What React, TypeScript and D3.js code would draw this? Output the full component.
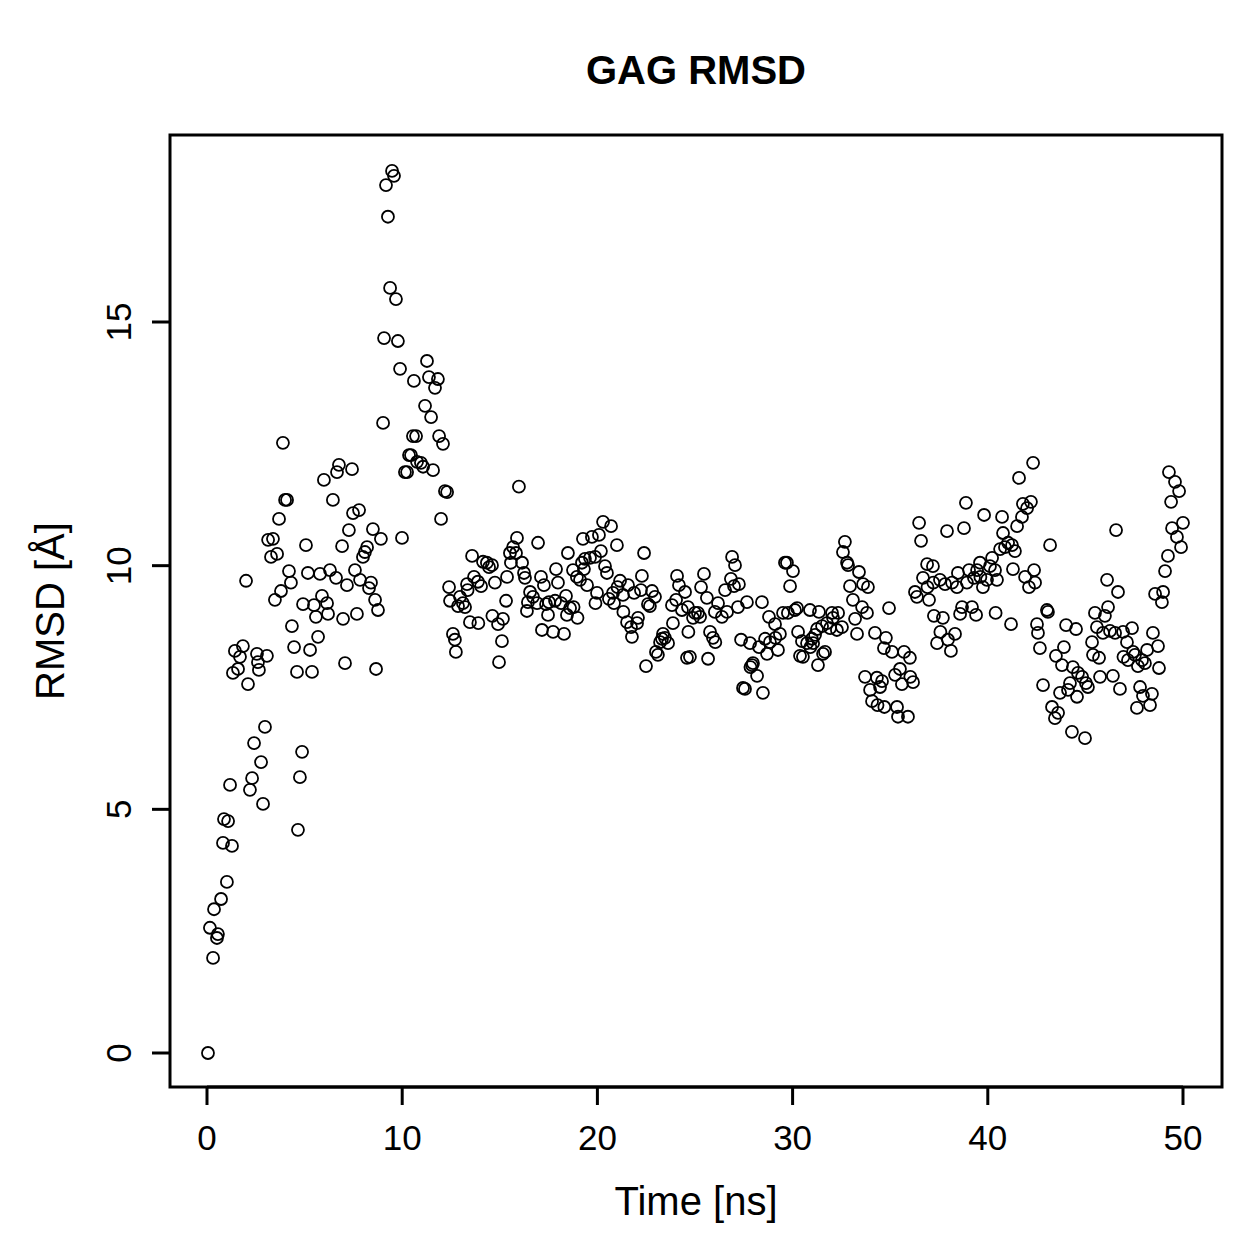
import React, { useEffect, useRef } from 'react';
import * as d3 from 'd3';

// values, paired by index
const timeNs = [
  0.05, 0.15, 0.31, 0.36, 0.51, 0.56, 0.72, 0.82, 0.87, 1.02, 1.08, 1.18, 1.28, 1.33, 1.43, 1.59, 1.69, 1.84, 2.00, 2.10,
  2.20, 2.31, 2.41, 2.56, 2.61, 2.66, 2.77, 2.87, 2.97, 3.07, 3.13, 3.28, 3.38, 3.48, 3.59, 3.69, 3.79, 3.89, 4.00, 4.10,
  4.20, 4.30, 4.35, 4.46, 4.61, 4.66, 4.76, 4.87, 4.92, 5.07, 5.17, 5.28, 5.38, 5.48, 5.58, 5.69, 5.79, 5.89, 5.99, 6.15,
  6.20, 6.30, 6.45, 6.61, 6.66, 6.76, 6.92, 6.97, 7.07, 7.17, 7.27, 7.43, 7.48, 7.58, 7.68, 7.79, 7.84, 7.99, 8.09, 8.20,
  8.30, 8.40, 8.50, 8.61, 8.66, 8.76, 8.91, 9.02, 9.07, 9.17, 9.27, 9.38, 9.48, 9.58, 9.68, 9.78, 9.89, 9.99, 10.14, 10.25,
  10.35, 10.45, 10.55, 10.60, 10.71, 10.76, 10.96, 11.07, 11.17, 11.27, 11.37, 11.48, 11.58, 11.68, 11.83, 11.89, 11.99, 12.09, 12.19, 12.30,
  12.40, 12.45, 12.60, 12.70, 12.75, 12.86, 12.96, 13.11, 13.22, 13.32, 13.35, 13.47, 13.58, 13.68, 13.88, 13.90, 14.04, 14.14, 14.34, 14.45,
  14.60, 14.62, 14.75, 14.91, 14.96, 15.11, 15.16, 15.32, 15.37, 15.52, 15.57, 15.68, 15.83, 15.88, 15.98, 16.14, 16.24, 16.29, 16.39, 16.44,
  16.55, 16.70, 16.91, 16.96, 17.11, 17.16, 17.26, 17.37, 17.47, 17.52, 17.73, 17.83, 17.88, 17.98, 18.14, 18.29, 18.39, 18.44, 18.49, 18.60,
  18.75, 18.78, 18.95, 18.98, 19.11, 19.21, 19.26, 19.31, 19.36, 19.47, 19.62, 19.72, 19.88, 19.90, 19.98, 20.08, 20.18, 20.29, 20.39, 20.49,
  20.59, 20.70, 20.80, 20.85, 21.00, 21.03, 21.16, 21.31, 21.33, 21.52, 21.57, 21.72, 21.77, 21.88, 22.03, 22.08, 22.23, 22.28, 22.39, 22.49,
  22.59, 22.69, 22.80, 22.95, 23.00, 23.10, 23.21, 23.31, 23.36, 23.46, 23.62, 23.82, 23.87, 24.03, 24.08, 24.18, 24.33, 24.49, 24.59, 24.64,
  24.66, 24.74, 24.90, 25.00, 25.15, 25.26, 25.31, 25.46, 25.61, 25.67, 25.77, 25.92, 26.02, 26.04, 26.18, 26.38, 26.54, 26.64, 26.84, 26.90,
  27.00, 27.05, 27.20, 27.25, 27.36, 27.46, 27.56, 27.66, 27.82, 27.84, 27.92, 27.97, 28.18, 28.28, 28.43, 28.48, 28.59, 28.69, 28.79, 28.84,
  29.10, 29.12, 29.25, 29.35, 29.51, 29.61, 29.71, 29.76, 29.87, 30.02, 30.12, 30.23, 30.28, 30.38, 30.48, 30.53, 30.74, 30.89, 30.91, 30.99,
  31.05, 31.15, 31.25, 31.30, 31.35, 31.51, 31.56, 31.66, 31.76, 31.92, 32.02, 32.07, 32.27, 32.33, 32.53, 32.58, 32.68, 32.79, 32.84, 32.94,
  33.09, 33.20, 33.30, 33.40, 33.56, 33.61, 33.71, 33.81, 33.86, 33.97, 34.07, 34.22, 34.32, 34.35, 34.48, 34.58, 34.68, 34.70, 34.78, 34.94,
  35.09, 35.25, 35.35, 35.40, 35.50, 35.60, 35.71, 35.91, 36.01, 36.03, 36.17, 36.27, 36.37, 36.48, 36.58, 36.68, 36.89, 36.91, 36.99, 37.19,
  37.21, 37.24, 37.40, 37.55, 37.57, 37.70, 37.81, 37.91, 37.96, 38.11, 38.17, 38.32, 38.42, 38.47, 38.58, 38.68, 38.78, 38.88, 38.93, 39.04,
  39.19, 39.29, 39.40, 39.45, 39.60, 39.62, 39.75, 39.81, 39.96, 40.11, 40.22, 40.37, 40.40, 40.47, 40.63, 40.73, 40.78, 40.88, 41.04, 41.19,
  41.24, 41.29, 41.39, 41.50, 41.60, 41.75, 41.80, 41.91, 42.01, 42.11, 42.21, 42.32, 42.37, 42.42, 42.52, 42.57, 42.67, 42.83, 43.03, 43.08,
  43.19, 43.29, 43.44, 43.49, 43.60, 43.70, 43.80, 43.90, 44.01, 44.11, 44.21, 44.31, 44.36, 44.52, 44.57, 44.62, 44.83, 44.98, 45.03, 45.13,
  45.34, 45.39, 45.49, 45.59, 45.70, 45.75, 45.90, 46.00, 46.11, 46.16, 46.26, 46.41, 46.52, 46.57, 46.67, 46.77, 46.93, 46.95, 47.13, 47.18,
  47.39, 47.44, 47.54, 47.64, 47.69, 47.80, 47.90, 47.95, 48.05, 48.16, 48.31, 48.41, 48.46, 48.57, 48.72, 48.77, 48.92, 48.98, 49.08, 49.23,
  49.28, 49.39, 49.44, 49.59, 49.69, 49.80, 49.90, 50.00
]

const rmsdA = [
  0.00, 2.57, 1.95, 2.95, 2.36, 2.44, 3.16, 4.31, 4.80, 3.51, 4.76, 5.50, 4.25, 7.80, 8.25, 7.88, 8.13, 8.35, 9.69, 7.57,
  5.40, 5.64, 6.36, 8.19, 8.02, 7.86, 5.97, 5.11, 6.69, 8.15, 10.53, 10.18, 10.55, 9.30, 10.24, 10.96, 9.48, 12.52, 11.35, 11.35,
  9.89, 9.65, 8.76, 8.33, 7.82, 4.58, 5.66, 6.18, 9.21, 10.42, 9.85, 8.27, 7.82, 9.19, 8.95, 8.54, 9.83, 9.38, 11.76, 9.23,
  9.01, 9.91, 11.35, 9.75, 11.92, 12.07, 10.40, 8.91, 8.00, 9.60, 10.73, 11.98, 11.08, 9.91, 9.01, 11.14, 9.71, 10.18, 10.28, 10.38,
  9.54, 9.65, 10.75, 9.30, 7.88, 9.09, 10.55, 12.93, 14.67, 17.81, 17.16, 15.70, 18.10, 18.00, 15.47, 14.61, 14.04, 10.57, 11.92, 11.92,
  12.27, 12.27, 12.66, 13.79, 12.66, 12.13, 12.11, 12.03, 13.28, 14.20, 13.87, 13.05, 11.96, 13.65, 13.83, 12.66, 10.96, 12.50, 11.53, 11.51,
  9.56, 9.28, 8.60, 8.48, 8.23, 9.17, 9.36, 9.23, 9.15, 9.62, 9.50, 8.84, 10.20, 9.77, 9.67, 8.82, 9.58, 10.08, 10.06, 9.97,
  10.01, 8.97, 9.65, 8.80, 8.02, 8.45, 8.91, 9.28, 9.77, 10.26, 10.06, 10.38, 10.26, 10.57, 11.62, 10.06, 9.85, 9.75, 9.07, 9.25,
  9.46, 9.36, 9.23, 10.47, 9.77, 8.68, 9.60, 9.21, 8.99, 9.25, 8.64, 9.28, 9.93, 9.65, 9.23, 8.60, 9.38, 8.99, 10.26, 9.13,
  9.91, 9.15, 9.77, 8.93, 9.71, 10.06, 10.55, 9.93, 10.14, 9.60, 10.16, 10.59, 10.18, 9.23, 9.44, 10.63, 10.30, 10.90, 9.99, 9.85,
  9.32, 10.81, 9.44, 9.23, 10.42, 9.56, 9.69, 9.40, 9.05, 8.84, 9.60, 8.74, 8.54, 9.44, 8.82, 8.93, 9.50, 9.79, 10.26, 7.94,
  9.21, 9.17, 9.48, 9.36, 8.23, 8.17, 8.43, 8.50, 8.60, 8.52, 8.41, 9.19, 8.82, 9.30, 9.79, 9.60, 9.09, 9.46, 8.11, 9.15,
  8.64, 8.13, 8.93, 9.03, 9.03, 8.95, 9.56, 9.83, 9.34, 8.09, 8.64, 8.52, 9.05, 8.43, 9.23, 8.95, 9.50, 9.05, 9.73, 10.18,
  9.58, 10.01, 9.15, 9.62, 8.48, 7.49, 7.47, 9.25, 8.41, 7.92, 7.96, 8.00, 7.74, 8.33, 9.25, 7.39, 8.50, 8.19, 8.95, 8.43,
  8.80, 8.52, 8.27, 8.60, 9.03, 10.06, 10.06, 9.03, 9.58, 9.89, 9.09, 9.13, 8.64, 8.15, 8.45, 8.13, 8.41, 9.09, 8.33, 8.50,
  8.41, 8.58, 8.70, 7.96, 9.05, 8.76, 8.19, 8.23, 8.82, 8.72, 9.03, 8.93, 8.68, 9.03, 8.74, 10.28, 10.49, 10.06, 10.01, 9.58,
  9.30, 8.91, 8.60, 9.87, 9.15, 9.62, 7.72, 9.03, 9.56, 7.45, 7.22, 8.62, 7.70, 7.14, 7.51, 7.63, 8.31, 7.10, 8.52, 9.13,
  8.23, 7.76, 7.10, 6.90, 7.88, 7.57, 8.23, 6.90, 8.11, 7.72, 7.61, 9.46, 9.36, 10.88, 10.51, 9.75, 10.03, 9.56, 9.30, 9.99,
  9.65, 8.97, 8.41, 9.71, 8.64, 8.93, 9.62, 10.71, 8.48, 8.25, 9.65, 8.60, 9.56, 9.85, 9.01, 9.15, 10.77, 11.29, 9.65, 9.91,
  9.15, 9.75, 8.99, 9.91, 10.06, 9.77, 9.56, 11.04, 9.71, 9.99, 10.16, 9.91, 9.03, 9.71, 10.34, 11.00, 10.67, 10.38, 10.47, 8.80,
  10.42, 9.93, 10.30, 10.81, 11.80, 11.00, 11.27, 9.77, 11.18, 9.56, 11.31, 12.11, 9.91, 9.65, 8.80, 8.62, 8.31, 7.55, 9.09, 9.05,
  10.42, 7.10, 6.87, 8.15, 6.98, 7.39, 7.96, 8.33, 8.78, 7.45, 7.59, 6.59, 7.92, 8.70, 7.31, 7.80, 7.72, 6.46, 7.59, 7.51,
  8.43, 8.17, 9.03, 8.74, 8.11, 7.72, 8.62, 8.97, 9.71, 9.15, 8.66, 7.74, 8.62, 10.73, 9.46, 7.47, 8.64, 8.13, 8.43, 8.06,
  8.72, 8.23, 8.17, 7.08, 7.94, 7.51, 8.06, 7.33, 8.00, 8.27, 7.14, 7.37, 8.62, 9.42, 8.35, 7.90, 9.25, 9.46, 9.89, 10.20,
  11.92, 11.31, 10.77, 11.72, 10.59, 11.53, 10.38, 10.88
]

const xTicks = [0, 10, 20, 30, 40, 50]
const yTicks = [0, 5, 10, 15]

const plotBox = { left: 170, right: 1222, top: 135, bottom: 1087 }
const font = "'Liberation Sans', Arial, Helvetica, sans-serif"

const App = () => {
  const chartRef = useRef<SVGSVGElement | null>(null)

  useEffect(() => {
    const svg = d3.select(chartRef.current)
    svg.selectAll('*').remove()

    const x = d3.scaleLinear().domain([0, 50]).range([207, 1183])
    const y = d3.scaleLinear().domain([0, 15]).range([1053, 322])

    // plot frame
    svg.append('rect')
      .attr('x', plotBox.left)
      .attr('y', plotBox.top)
      .attr('width', plotBox.right - plotBox.left)
      .attr('height', plotBox.bottom - plotBox.top)
      .attr('fill', 'none')
      .attr('stroke', '#000')
      .attr('stroke-width', 3)

    // bottom axis
    const xAxis = svg.append('g')
    xAxis.append('line')
      .attr('x1', x(0)).attr('x2', x(50))
      .attr('y1', plotBox.bottom).attr('y2', plotBox.bottom)
      .attr('stroke', '#000').attr('stroke-width', 3)
    xAxis.selectAll('line.tick')
      .data(xTicks)
      .join('line')
      .attr('class', 'tick')
      .attr('x1', d => x(d)).attr('x2', d => x(d))
      .attr('y1', plotBox.bottom).attr('y2', plotBox.bottom + 18)
      .attr('stroke', '#000').attr('stroke-width', 3)
    xAxis.selectAll('text')
      .data(xTicks)
      .join('text')
      .attr('x', d => x(d))
      .attr('y', 1150)
      .attr('text-anchor', 'middle')
      .style('font-family', font)
      .style('font-size', '35px')
      .text(d => d)

    // left axis
    const yAxis = svg.append('g')
    yAxis.selectAll('line.tick')
      .data(yTicks)
      .join('line')
      .attr('class', 'tick')
      .attr('x1', plotBox.left - 18).attr('x2', plotBox.left)
      .attr('y1', d => y(d)).attr('y2', d => y(d))
      .attr('stroke', '#000').attr('stroke-width', 3)
    yAxis.selectAll('text')
      .data(yTicks)
      .join('text')
      .attr('transform', d => `translate(131,${y(d)}) rotate(-90)`)
      .attr('text-anchor', 'middle')
      .style('font-family', font)
      .style('font-size', '35px')
      .text(d => d)

    // points
    svg.append('g')
      .selectAll('circle')
      .data(timeNs.map((t, i) => [t, rmsdA[i]]))
      .join('circle')
      .attr('cx', d => x(d[0]))
      .attr('cy', d => y(d[1]))
      .attr('r', 6)
      .attr('fill', 'none')
      .attr('stroke', '#000')
      .attr('stroke-width', 1.8)

    // titles
    svg.append('text')
      .attr('x', (plotBox.left + plotBox.right) / 2)
      .attr('y', 84)
      .attr('text-anchor', 'middle')
      .style('font-family', font)
      .style('font-size', '40px')
      .style('font-weight', 'bold')
      .text('GAG RMSD')

    svg.append('text')
      .attr('x', (plotBox.left + plotBox.right) / 2)
      .attr('y', 1215)
      .attr('text-anchor', 'middle')
      .style('font-family', font)
      .style('font-size', '40px')
      .text('Time [ns]')

    svg.append('text')
      .attr('transform', `translate(64,${(plotBox.top + plotBox.bottom) / 2}) rotate(-90)`)
      .attr('text-anchor', 'middle')
      .style('font-family', font)
      .style('font-size', '40px')
      .text('RMSD [Å]')
  }, [])

  return (
    <svg ref={chartRef} width={1259} height={1259}
      style={{ position: 'absolute', left: 0, top: 0, display: 'block', background: '#fff' }}></svg>
  )
}

export default App
